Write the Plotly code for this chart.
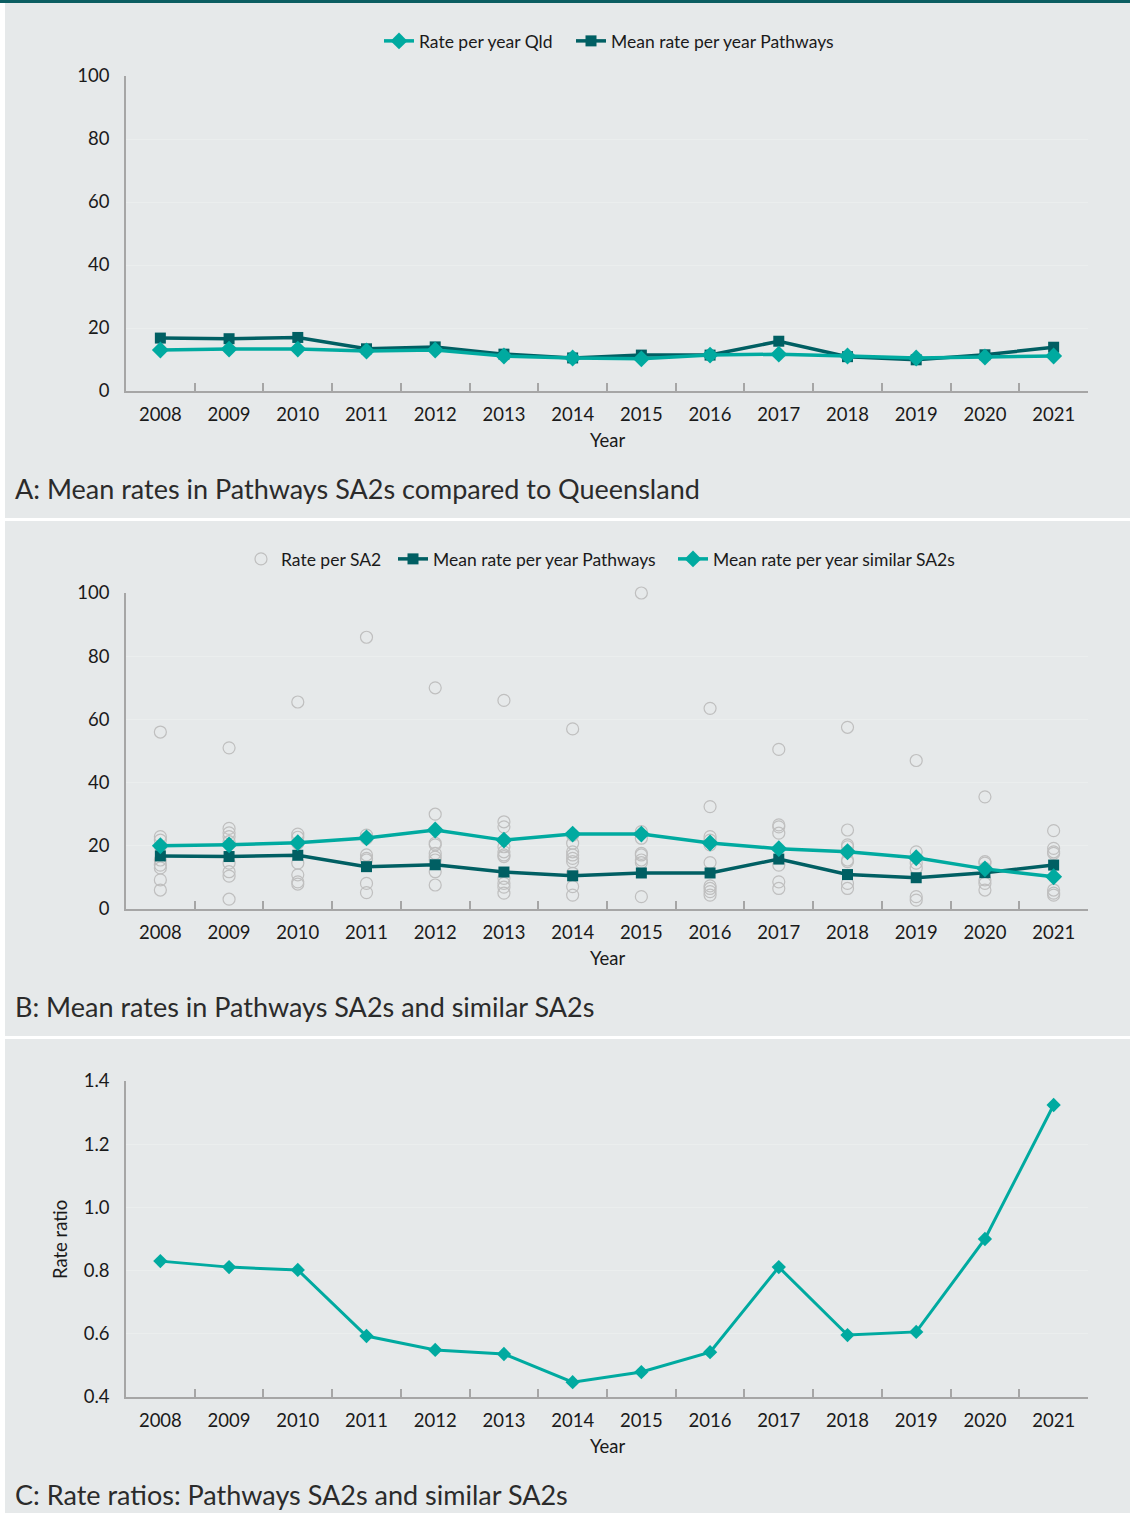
import plotly.graph_objects as go

years = [str(y) for y in range(2008, 2022)]

# Panel A
qld_rate = [13.0, 13.3, 13.3, 12.7, 13.0, 11.1, 10.5, 10.2, 11.4, 11.7, 11.1, 10.5, 10.8, 11.1]
pathways_mean = [16.8, 16.6, 17.0, 13.4, 14.0, 11.7, 10.5, 11.4, 11.4, 15.8, 10.9, 9.9, 11.5, 13.9]

# Panel B
similar_mean = [20.0, 20.3, 21.0, 22.5, 25.0, 21.8, 23.7, 23.7, 20.9, 19.1, 18.1, 16.2, 12.7, 10.2]
sa2_rates = {
    "2008": [56.0, 22.9, 21.8, 19.9, 15.5, 13.9, 13.0, 9.2, 6.0],
    "2009": [51.0, 25.5, 24.1, 22.9, 21.3, 14.5, 11.8, 10.4, 3.1],
    "2010": [65.5, 23.7, 22.7, 20.8, 14.5, 10.8, 8.6, 7.9],
    "2011": [86.0, 23.4, 22.4, 17.1, 16.0, 15.5, 8.1, 5.2],
    "2012": [70.0, 30.0, 20.8, 20.3, 17.6, 16.4, 15.5, 11.8, 7.6],
    "2013": [66.0, 27.6, 26.0, 19.7, 18.1, 17.1, 16.6, 9.7, 8.1, 6.9, 5.0],
    "2014": [57.0, 23.4, 20.8, 18.1, 17.1, 16.0, 15.0, 11.3, 7.1, 4.4],
    "2015": [100.0, 24.5, 22.4, 17.6, 17.1, 15.5, 14.7, 3.9],
    "2016": [63.5, 32.4, 22.9, 21.8, 20.3, 14.7, 7.3, 6.5, 5.5, 4.4],
    "2017": [50.5, 26.6, 26.0, 24.0, 13.9, 8.6, 6.5],
    "2018": [57.5, 25.0, 20.3, 19.7, 18.1, 15.5, 15.0, 8.1, 6.5],
    "2019": [47.0, 18.1, 14.5, 12.9, 3.9, 2.8],
    "2020": [35.5, 15.0, 14.5, 12.9, 9.2, 8.1, 6.0],
    "2021": [24.8, 19.2, 18.1, 17.6, 6.0, 5.0, 4.4],
}

# Panel C
rate_ratio = [0.830, 0.811, 0.802, 0.593, 0.549, 0.536, 0.447, 0.479, 0.542, 0.811, 0.596, 0.606, 0.900, 1.324]

TEAL = "#00aaa0"
DARK = "#005f63"
GREY_AX = "#a6a6a6"
FONT = "Lato"
W, H = 1130, 1515

def px(x):
    return x / W

def py(y):
    return 1 - y / H

fig = go.Figure()

# Panel A traces (Pathways drawn first, Qld on top)
fig.add_trace(go.Scatter(x=years, y=pathways_mean, mode="lines+markers", name="Mean rate per year Pathways",
                         line=dict(color=DARK, width=3.5), marker=dict(symbol="square", size=11, color=DARK),
                         xaxis="x", yaxis="y", legend="legend2", cliponaxis=False))
fig.add_trace(go.Scatter(x=years, y=qld_rate, mode="lines+markers", name="Rate per year Qld",
                         line=dict(color=TEAL, width=3.5), marker=dict(symbol="diamond", size=13, color=TEAL),
                         xaxis="x", yaxis="y", legend="legend", cliponaxis=False))

# Panel B traces
sx, sy = [], []
for yr in years:
    for v in sa2_rates[yr]:
        sx.append(yr)
        sy.append(v)
fig.add_trace(go.Scatter(x=sx, y=sy, mode="markers", name="Rate per SA2",
                         marker=dict(symbol="circle-open", size=12, color="#bfbfbf", line=dict(width=1.2)),
                         xaxis="x2", yaxis="y2", legend="legend3", cliponaxis=False))
fig.add_trace(go.Scatter(x=years, y=pathways_mean, mode="lines+markers", name="Mean rate per year Pathways",
                         line=dict(color=DARK, width=3.5), marker=dict(symbol="square", size=11, color=DARK),
                         xaxis="x2", yaxis="y2", legend="legend4", cliponaxis=False))
fig.add_trace(go.Scatter(x=years, y=similar_mean, mode="lines+markers", name="Mean rate per year similar SA2s",
                         line=dict(color=TEAL, width=3.5), marker=dict(symbol="diamond", size=13, color=TEAL),
                         xaxis="x2", yaxis="y2", legend="legend5", cliponaxis=False))

# Panel C
fig.add_trace(go.Scatter(x=years, y=rate_ratio, mode="lines+markers", name="Rate ratio",
                         line=dict(color=TEAL, width=3), marker=dict(symbol="diamond", size=11, color=TEAL),
                         xaxis="x3", yaxis="y3", showlegend=False, cliponaxis=False))

xdom = [px(126), px(1088)]
xcommon = dict(type="category", categoryorder="array", categoryarray=years, domain=xdom,
               showline=True, linecolor=GREY_AX, linewidth=1.5, tickson="boundaries",
               ticks="inside", ticklen=8, tickcolor=GREY_AX, tickwidth=1.5, showgrid=False,
               tickfont=dict(family=FONT, size=18.5, color="#1a1a1a"), ticklabelstandoff=6,
               range=[-0.5, 13.5], zeroline=False, fixedrange=True, automargin=False)
ycommon = dict(showline=True, linecolor=GREY_AX, linewidth=1.5, ticks="", showgrid=True,
               gridcolor="#ebeeee", gridwidth=1, zeroline=False, automargin=False,
               tickfont=dict(family=FONT, size=18.5, color="#1a1a1a"), ticklabelstandoff=11)

fig.update_layout(
    xaxis=dict(**xcommon, anchor="y"),
    yaxis=dict(**ycommon, domain=[py(391), py(76)], range=[0, 100], tickvals=[0, 20, 40, 60, 80, 100], anchor="x"),
    xaxis2=dict(**xcommon, anchor="y2"),
    yaxis2=dict(**ycommon, domain=[py(909), py(593)], range=[0, 100], tickvals=[0, 20, 40, 60, 80, 100], anchor="x2"),
    xaxis3=dict(**xcommon, anchor="y3"),
    yaxis3=dict(**ycommon, domain=[py(1397), py(1081)], range=[0.4, 1.4],
                tickvals=[0.4, 0.6, 0.8, 1.0, 1.2, 1.4], tickformat=".1f", anchor="x3"),
)

# One legend per entry so each can be placed where the reference has it
TEXT_OFFSET = 40  # distance from legend left edge to the entry text
legend_common = dict(orientation="h", xanchor="left", yanchor="middle", bgcolor="rgba(0,0,0,0)",
                     font=dict(family=FONT, size=17.5, color="#1a1a1a"), itemwidth=30)
fig.update_layout(
    legend=dict(**legend_common, x=px(419 - TEXT_OFFSET), y=py(41)),
    legend2=dict(**legend_common, x=px(611 - TEXT_OFFSET), y=py(41)),
    legend3=dict(**legend_common, x=px(281 - TEXT_OFFSET), y=py(559)),
    legend4=dict(**legend_common, x=px(433 - TEXT_OFFSET), y=py(559)),
    legend5=dict(**legend_common, x=px(713 - TEXT_OFFSET), y=py(559)),
)

# Background panels
shapes = [
    dict(type="rect", xref="paper", yref="paper", x0=0, x1=1, y0=py(3), y1=1, fillcolor="#0b5e62", line_width=0, layer="below"),
    dict(type="rect", xref="paper", yref="paper", x0=px(5), x1=1, y0=py(518), y1=py(3), fillcolor="#e6e9ea", line_width=0, layer="below"),
    dict(type="rect", xref="paper", yref="paper", x0=px(5), x1=1, y0=py(1036), y1=py(521), fillcolor="#e6e9ea", line_width=0, layer="below"),
    dict(type="rect", xref="paper", yref="paper", x0=px(5), x1=1, y0=py(1513), y1=py(1039), fillcolor="#e6e9ea", line_width=0, layer="below"),
]

title_font = dict(family=FONT, size=27, color="#2b2b2b")
axis_title_font = dict(family=FONT, size=18.5, color="#1a1a1a")
annotations = [
    dict(text="A: Mean rates in Pathways SA2s compared to Queensland", x=px(13), y=py(488)),
    dict(text="B: Mean rates in Pathways SA2s and similar SA2s", x=px(13), y=py(1007)),
    dict(text="C: Rate ratios: Pathways SA2s and similar SA2s", x=px(13), y=py(1494)),
]
annotations = [dict(**a, xref="paper", yref="paper", xanchor="left", yanchor="middle", showarrow=False, font=title_font) for a in annotations]
for yy in (440, 958, 1446):
    annotations.append(dict(text="Year", x=px(607), y=py(yy), xref="paper", yref="paper", xanchor="center",
                            yanchor="middle", showarrow=False, font=axis_title_font))
annotations.append(dict(text="Rate ratio", x=px(60), y=py(1240), xref="paper", yref="paper", xanchor="center",
                        yanchor="middle", showarrow=False, textangle=-90, font=axis_title_font))

fig.update_layout(
    width=W, height=H, autosize=False,
    margin=dict(l=0, r=0, t=0, b=0, pad=0, autoexpand=False),
    paper_bgcolor="white", plot_bgcolor="rgba(0,0,0,0)",
    shapes=shapes, annotations=annotations,
    font=dict(family=FONT),
)

fig.write_html("out.html",
               post_script="document.body.style.margin='0';document.body.style.overflow='hidden';")
